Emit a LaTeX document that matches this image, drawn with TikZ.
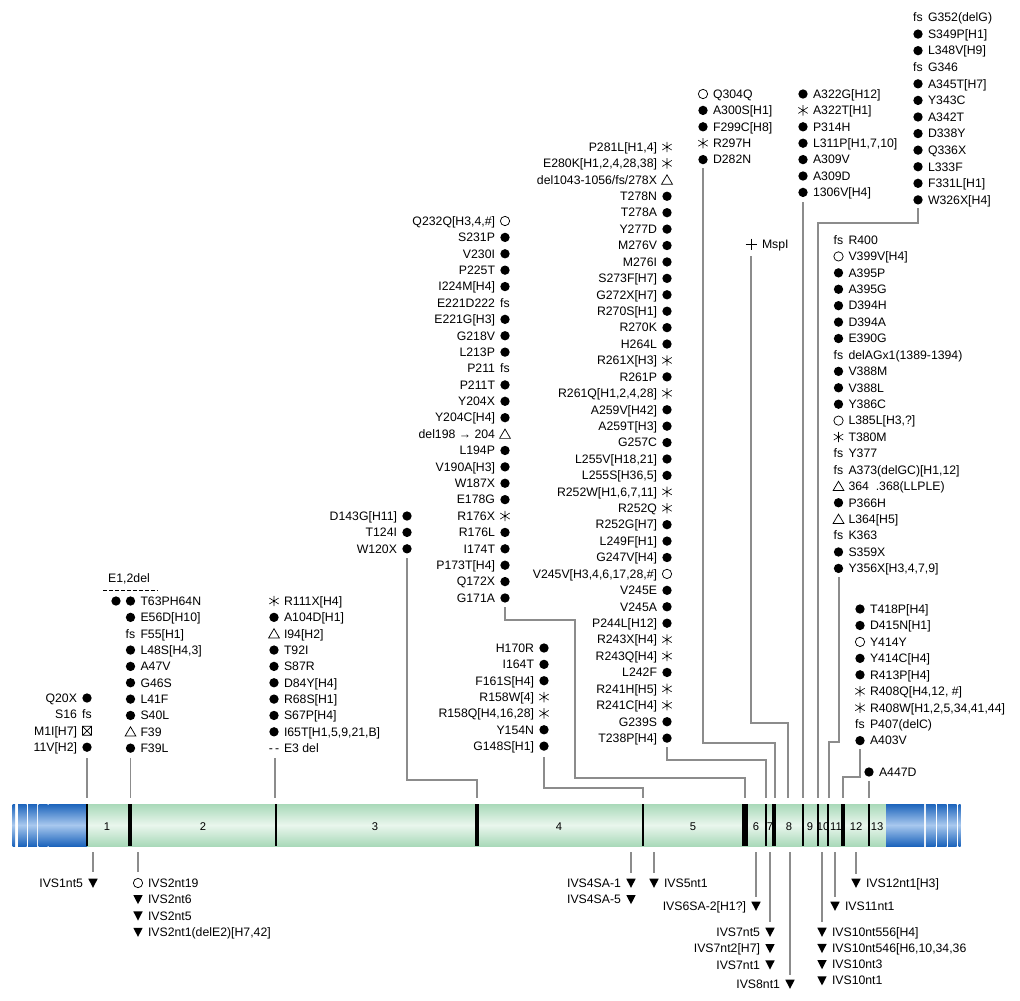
\documentclass[tikz,border=0pt]{standalone}
\usepackage{fontspec}
\setmainfont{Liberation Sans}
\newcounter{mn}
\definecolor{gedge}{HTML}{A9D9B9}
\definecolor{gmid}{HTML}{E9F6ED}
\definecolor{bedge}{HTML}{1C64BC}
\definecolor{bmid}{HTML}{A8C8EE}
\definecolor{conn}{HTML}{8C8C8C}
\tikzset{
  lab/.style={font=\fontsize{9.2}{11}\selectfont,inner sep=0pt,outer sep=0pt},
  exn/.style={font=\fontsize{8.4}{10}\selectfont,inner sep=0pt},
  conline/.style={draw=conn,line width=0.8pt},
  symline/.style={line width=0.55pt},
}
\newcommand\symdot{\fill (0,0) circle (3.5pt);}
\newcommand\symoc{\draw[symline] (0,0) circle (3.5pt);}
\newcommand\symast{\draw[line width=0.45pt] (0,-5.2)--(0,5.2) (-4.7,-3)--(4.7,3) (-4.7,3)--(4.7,-3);}
\newcommand\symtri{\draw[symline,line join=miter] (0,-5)--(5.4,4.3)--(-5.4,4.3)--cycle;}
\newcommand\symdtri{\fill (-4.7,-4.3)--(4.7,-4.3)--(0,4.8)--cycle;}
\newcommand\symxbox{\draw[symline] (-4.5,-4.5) rectangle (4.5,4.5) (-4.5,-4.5)--(4.5,4.5) (-4.5,4.5)--(4.5,-4.5);}
\newcommand\symfs{\node[lab,anchor=base] (s\arabic{mn}) at (0,4.3) {fs};}
\newcommand\symdd{\node[lab,anchor=base] (s\arabic{mn}) at (0,4.3) {-\,-};}
\newcommand\mcol[4]{\def\mcx{#1}\def\mcy{#2}\def\mside{#3}\def\mdy{#4}}
\newcommand\mrow[2]{%
  \stepcounter{mn}%
  \begin{scope}[shift={(\mcx,\mcy)}]\csname sym#1\endcsname\end{scope}%
  \if r\mside
    \node[lab,anchor=base west] (m\arabic{mn}) at (\mcx+10,\mcy+4.3) {#2};%
  \else
    \node[lab,anchor=base east] (m\arabic{mn}) at (\mcx-10,\mcy+4.3) {#2};%
  \fi
  \pgfmathsetmacro\mcy{\mcy+\mdy}}
\begin{document}
\begin{tikzpicture}[x=0.75pt,y=-0.75pt]
\useasboundingbox (0,0) rectangle (1020,1000);
\fill[white] (0,0) rectangle (1020,1000);

% ---------- gene bar ----------
\shade[top color=gedge,bottom color=gedge,middle color=gmid] (87,804) rectangle (886,846);
\foreach \a/\b in {12.7/15.2,18/26.5,28/37,38.5/47.5,48.5/87,886/924,925.8/935.5,937/946.5,948/956.5,958.5/960.5}
  \shade[top color=bedge,bottom color=bedge,middle color=bmid] (\a,804) rectangle (\b,846);
\foreach \x/\w in {87/1.0,130/2.8,276/1.3,477/2.8,643/1.2,745/4.2,766/1.2,774/2.6,803/1.2,818/1.0,828/1.0,843/2.6,869/1.2}
  \draw[line width=\w pt] (\x,804)--(\x,846);
\foreach \x/\t in {107/1,203/2,375/3,559/4,693/5,756/6,770/7,789/8,810/9,823/10,836/11,856/12,877/13}
  \node[exn,anchor=base] (e\t) at (\x,830) {\t};

% ---------- column A ----------
\mcol{87}{698}{l}{16.4}
\mrow{dot}{Q20X}
\mrow{fs}{S16}
\mrow{xbox}{M1I[H7]}
\mrow{dot}{11V[H2]}

% ---------- column B ----------
\node[lab,anchor=base] (e12) at (129,582.3) {E1,2del};
\draw[dash pattern=on 2.7pt off 1.8pt,line width=0.5pt] (103,590)--(158,590);
\fill (116,601) circle (3.5pt);
\mcol{130.5}{601}{r}{16.35}
\mrow{dot}{T63PH64N}
\mrow{dot}{E56D[H10]}
\mrow{fs}{F55[H1]}
\mrow{dot}{L48S[H4,3]}
\mrow{dot}{A47V}
\mrow{dot}{G46S}
\mrow{dot}{L41F}
\mrow{dot}{S40L}
\mrow{tri}{F39}
\mrow{dot}{F39L}

% ---------- column C ----------
\mcol{274}{601}{r}{16.35}
\mrow{ast}{R111X[H4]}
\mrow{dot}{A104D[H1]}
\mrow{tri}{I94[H2]}
\mrow{dot}{T92I}
\mrow{dot}{S87R}
\mrow{dot}{D84Y[H4]}
\mrow{dot}{R68S[H1]}
\mrow{dot}{S67P[H4]}
\mrow{dot}{I65T[H1,5,9,21,B]}
\mrow{dd}{E3 del}

% ---------- column D ----------
\mcol{407}{516}{l}{16.4}
\mrow{dot}{D143G[H11]}
\mrow{dot}{T124I}
\mrow{dot}{W120X}

% ---------- column E ----------
\mcol{505}{221}{l}{16.39}
\mrow{oc}{Q232Q[H3,4,\#]}
\mrow{dot}{S231P}
\mrow{dot}{V230I}
\mrow{dot}{P225T}
\mrow{dot}{I224M[H4]}
\mrow{fs}{E221D222}
\mrow{dot}{E221G[H3]}
\mrow{dot}{G218V}
\mrow{dot}{L213P}
\mrow{fs}{P211}
\mrow{dot}{P211T}
\mrow{dot}{Y204X}
\mrow{dot}{Y204C[H4]}
\mrow{tri}{del198 → 204}
\mrow{dot}{L194P}
\mrow{dot}{V190A[H3]}
\mrow{dot}{W187X}
\mrow{dot}{E178G}
\mrow{ast}{R176X}
\mrow{dot}{R176L}
\mrow{dot}{I174T}
\mrow{dot}{P173T[H4]}
\mrow{dot}{Q172X}
\mrow{dot}{G171A}

% ---------- column F ----------
\mcol{544}{648}{l}{16.35}
\mrow{dot}{H170R}
\mrow{dot}{I164T}
\mrow{dot}{F161S[H4]}
\mrow{ast}{R158W[4]}
\mrow{ast}{R158Q[H4,16,28]}
\mrow{dot}{Y154N}
\mrow{dot}{G148S[H1]}

% ---------- column G ----------
\mcol{667}{147}{l}{16.42}
\mrow{ast}{P281L[H1,4]}
\mrow{ast}{E280K[H1,2,4,28,38]}
\mrow{tri}{del1043-1056/fs/278X}
\mrow{dot}{T278N}
\mrow{dot}{T278A}
\mrow{dot}{Y277D}
\mrow{dot}{M276V}
\mrow{dot}{M276I}
\mrow{dot}{S273F[H7]}
\mrow{dot}{G272X[H7]}
\mrow{dot}{R270S[H1]}
\mrow{dot}{R270K}
\mrow{dot}{H264L}
\mrow{ast}{R261X[H3]}
\mrow{dot}{R261P}
\mrow{ast}{R261Q[H1,2,4,28]}
\mrow{dot}{A259V[H42]}
\mrow{dot}{A259T[H3]}
\mrow{dot}{G257C}
\mrow{dot}{L255V[H18,21]}
\mrow{dot}{L255S[H36,5]}
\mrow{ast}{R252W[H1,6,7,11]}
\mrow{ast}{R252Q}
\mrow{dot}{R252G[H7]}
\mrow{dot}{L249F[H1]}
\mrow{dot}{G247V[H4]}
\mrow{oc}{V245V[H3,4,6,17,28,\#]}
\mrow{dot}{V245E}
\mrow{dot}{V245A}
\mrow{dot}{P244L[H12]}
\mrow{ast}{R243X[H4]}
\mrow{ast}{R243Q[H4]}
\mrow{dot}{L242F}
\mrow{ast}{R241H[H5]}
\mrow{ast}{R241C[H4]}
\mrow{dot}{G239S}
\mrow{dot}{T238P[H4]}

% ---------- column H ----------
\mcol{703}{94}{r}{16.4}
\mrow{oc}{Q304Q}
\mrow{dot}{A300S[H1]}
\mrow{dot}{F299C[H8]}
\mrow{ast}{R297H}
\mrow{dot}{D282N}

% ---------- MspI ----------
\draw[line width=0.5pt] (745.5,244)--(756.5,244) (751,238.5)--(751,249.5);
\node[lab,anchor=base west] (mspi) at (762,248.3) {MspI};

% ---------- column I ----------
\mcol{803}{94}{r}{16.4}
\mrow{dot}{A322G[H12]}
\mrow{ast}{A322T[H1]}
\mrow{dot}{P314H}
\mrow{dot}{L311P[H1,7,10]}
\mrow{dot}{A309V}
\mrow{dot}{A309D}
\mrow{dot}{1306V[H4]}

% ---------- column J ----------
\mcol{918}{17.5}{r}{16.58}
\mrow{fs}{G352(delG)}
\mrow{dot}{S349P[H1]}
\mrow{dot}{L348V[H9]}
\mrow{fs}{G346}
\mrow{dot}{A345T[H7]}
\mrow{dot}{Y343C}
\mrow{dot}{A342T}
\mrow{dot}{D338Y}
\mrow{dot}{Q336X}
\mrow{dot}{L333F}
\mrow{dot}{F331L[H1]}
\mrow{dot}{W326X[H4]}

% ---------- column K ----------
\mcol{838.5}{240}{r}{16.42}
\mrow{fs}{R400}
\mrow{oc}{V399V[H4]}
\mrow{dot}{A395P}
\mrow{dot}{A395G}
\mrow{dot}{D394H}
\mrow{dot}{D394A}
\mrow{dot}{E390G}
\mrow{fs}{delAGx1(1389-1394)}
\mrow{dot}{V388M}
\mrow{dot}{V388L}
\mrow{dot}{Y386C}
\mrow{oc}{L385L[H3,?]}
\mrow{ast}{T380M}
\mrow{fs}{Y377}
\mrow{fs}{A373(delGC)[H1,12]}
\mrow{tri}{364\ \ .368(LLPLE)}
\mrow{dot}{P366H}
\mrow{tri}{L364[H5]}
\mrow{fs}{K363}
\mrow{dot}{S359X}
\mrow{dot}{Y356X[H3,4,7,9]}

% ---------- column L ----------
\mcol{860}{609}{r}{16.45}
\mrow{dot}{T418P[H4]}
\mrow{dot}{D415N[H1]}
\mrow{oc}{Y414Y}
\mrow{dot}{Y414C[H4]}
\mrow{dot}{R413P[H4]}
\mrow{ast}{R408Q[H4,12, \#]}
\mrow{ast}{R408W[H1,2,5,34,41,44]}
\mrow{fs}{P407(delC)}
\mrow{dot}{A403V}

\mcol{869}{772}{r}{16.4}
\mrow{dot}{A447D}

% ---------- lower labels ----------
\mcol{93}{883}{l}{16.35}
\mrow{dtri}{IVS1nt5}
\mcol{138}{883}{r}{16.35}
\mrow{oc}{IVS2nt19}
\mrow{dtri}{IVS2nt6}
\mrow{dtri}{IVS2nt5}
\mrow{dtri}{IVS2nt1(delE2)[H7,42]}
\mcol{631}{883}{l}{16.35}
\mrow{dtri}{IVS4SA-1}
\mrow{dtri}{IVS4SA-5}
\mcol{654}{883}{r}{16.35}
\mrow{dtri}{IVS5nt1}
\mcol{756}{906}{l}{16.35}
\mrow{dtri}{IVS6SA-2[H1?]}
\mcol{770}{932}{l}{16.35}
\mrow{dtri}{IVS7nt5}
\mrow{dtri}{IVS7nt2[H7]}
\mrow{dtri}{IVS7nt1}
\mcol{790}{984}{l}{16.35}
\mrow{dtri}{IVS8nt1}
\mcol{822}{932}{r}{16.2}
\mrow{dtri}{IVS10nt556[H4]}
\mrow{dtri}{IVS10nt546[H6,10,34,36}
\mrow{dtri}{IVS10nt3}
\mrow{dtri}{IVS10nt1}
\mcol{835}{906}{r}{16.35}
\mrow{dtri}{IVS11nt1}
\mcol{856}{883}{r}{16.35}
\mrow{dtri}{IVS12nt1[H3]}

% ---------- connectors above the bar ----------
\coordinate (tA) at (87,758);   \coordinate (bA) at (87,798);
\coordinate (tB) at (130.5,758);\coordinate (bB) at (130.5,798);
\coordinate (tC) at (275,758);  \coordinate (bC) at (275,798);
\coordinate (tD) at (407,558);  \coordinate (bD) at (477,798);
\coordinate (tE) at (505,607);  \coordinate (bE) at (745,798);
\coordinate (tF) at (544,757);  \coordinate (bF) at (643,798);
\coordinate (tG) at (667,747);  \coordinate (bG) at (766,798);
\coordinate (tH) at (703,168);  \coordinate (bH) at (775,798);
\coordinate (tM) at (751,256);  \coordinate (bM) at (788,798);
\coordinate (tI) at (803,202);  \coordinate (bI) at (803,798);
\coordinate (tJ) at (918,208);  \coordinate (bJ) at (818,798);
\coordinate (tK) at (839,577);  \coordinate (bK) at (829,798);
\coordinate (tL) at (860,749);  \coordinate (bL) at (843,798);
\coordinate (tN) at (869,781);  \coordinate (bN) at (869,798);
\draw[conline] (tA)--(bA);
\draw[conline] (tB)--(bB);
\draw[conline] (tC)--(bC);
\draw[conline] (tD)--(407,780)--(477,780)--(bD);
\draw[conline] (tE)--(505,620)--(575,620)--(575,778)--(745,778)--(bE);
\draw[conline] (tF)--(544,788)--(643,788)--(bF);
\draw[conline] (tG)--(667,760)--(766,760)--(bG);
\draw[conline] (tH)--(703,743)--(775,743)--(bH);
\draw[conline] (tM)--(751,723)--(788,723)--(bM);
\draw[conline] (tI)--(bI);
\draw[conline] (tJ)--(918,223)--(818,223)--(bJ);
\draw[conline] (tK)--(839,742)--(829,742)--(bK);
\draw[conline] (tL)--(860,777)--(843,777)--(bL);
\draw[conline] (tN)--(bN);

% ---------- connectors below the bar ----------
\foreach \n/\x/\y in {p1/93/872,p2/138/872,p4/631/873,p5/654/873,p6/756/897,p7/770/922,p8/790/975,p10/822/922,p11/835/897,p12/856/874}{
  \coordinate (s\n) at (\x,852);
  \coordinate (e\n) at (\x,\y);
  \draw[conline] (s\n)--(e\n);
}
\end{tikzpicture}
\end{document}
